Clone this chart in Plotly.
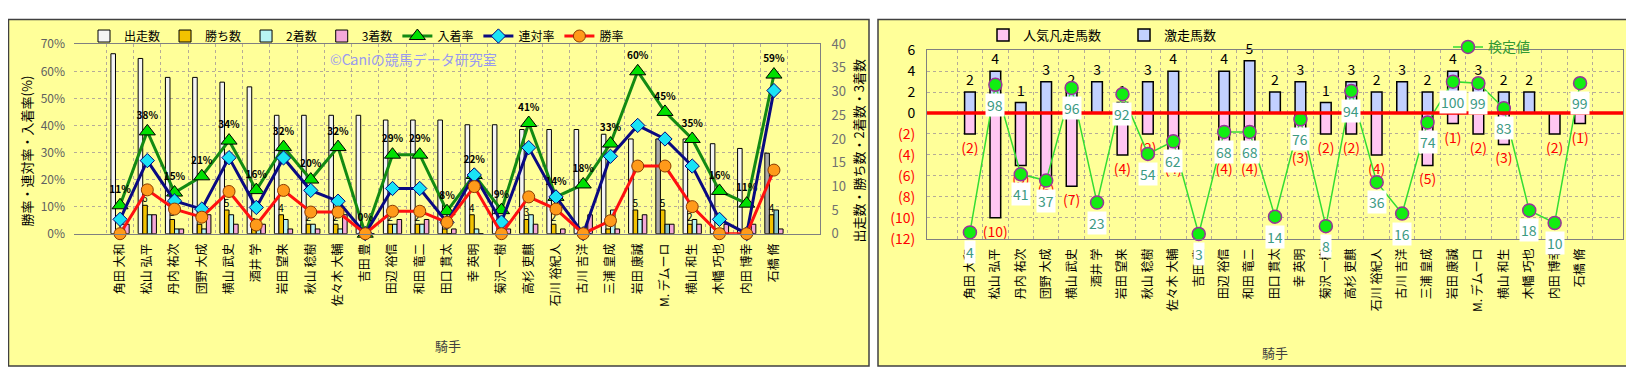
import plotly.graph_objects as go

# ---------------- data ----------------
jockeys = ["角田 大和", "松山 弘平", "丹内 祐次", "団野 大成", "横山 武史", "酒井 学", "岩田 望来",
           "秋山 稔樹", "佐々木 大輔", "吉田 豊", "田辺 裕信", "和田 竜二", "田口 貫太", "幸 英明",
           "菊沢 一樹", "高杉 吏麒", "石川 裕紀人", "古川 吉洋", "三浦 皇成", "岩田 康誠",
           "M. デムーロ", "横山 和生", "木幡 巧也", "内田 博幸", "石橋 脩"]
starts = [38, 37, 33, 33, 32, 31, 25, 25, 25, 25, 24, 24, 24, 23, 23, 22, 22, 22, 21, 20, 20, 20, 19, 18, 17]
wins = [0, 6, 3, 2, 5, 1, 4, 2, 2, 0, 2, 2, 1, 4, 0, 3, 2, 0, 1, 5, 5, 2, 0, 0, 4]
seconds = [2, 4, 1, 1, 4, 2, 3, 2, 1, 0, 2, 2, 0, 1, 1, 4, 0, 0, 5, 3, 2, 3, 1, 0, 5]
thirds = [2, 4, 1, 4, 2, 2, 1, 1, 4, 0, 3, 3, 1, 0, 1, 2, 1, 4, 1, 4, 2, 2, 2, 2, 1]
place_rate = [10.5, 37.8, 15.2, 21.2, 34.4, 16.1, 32.0, 20.0, 32.0, 0.0, 29.2, 29.2, 8.3, 21.7,
              8.7, 40.9, 13.6, 18.2, 33.3, 60.0, 45.0, 35.0, 15.8, 11.1, 58.8]
quinella_rate = [5.3, 27.0, 12.1, 9.1, 28.1, 9.7, 28.0, 16.0, 12.0, 0.0, 16.7, 16.7, 4.2, 21.7,
                 4.3, 31.8, 13.6, 0.0, 28.6, 40.0, 35.0, 25.0, 5.3, 0.0, 52.9]
win_rate = [0.0, 16.2, 9.1, 6.1, 15.6, 3.2, 16.0, 8.0, 8.0, 0.0, 8.3, 8.3, 4.2, 17.4,
            0.0, 13.6, 9.1, 0.0, 4.8, 25.0, 25.0, 10.0, 0.0, 0.0, 23.5]
place_labels = ["11%", "38%", "15%", "21%", "34%", "16%", "32%", "20%", "32%", "0%", "29%", "29%", "8%",
                "22%", "9%", "41%", "14%", "18%", "33%", "60%", "45%", "35%", "16%", "11%", "59%"]
highlight = ["M. デムーロ", "石橋 脩"]

gekiso = [2, 4, 1, 3, 2, 3, 1, 3, 4, 0, 4, 5, 2, 3, 1, 3, 2, 3, 2, 4, 3, 2, 2, 0, 0]      # 激走馬数
bonso = [2, 10, 5, 6, 7, 0, 4, 2, 4, 0, 4, 4, 0, 3, 2, 2, 4, 0, 5, 1, 2, 3, 0, 2, 1]      # 人気凡走馬数
kentei = [4, 98, 41, 37, 96, 23, 92, 54, 62, 3, 68, 68, 14, 76, 8, 94, 36, 16, 74, 100, 99, 83, 18, 10, 99]

right_ticks = [6, 4, 2, 0, -2, -4, -6, -8, -10, -12]

# ---------------- styling helpers ----------------
W, H = 1634, 369
FONT = "Noto Sans CJK JP"


def fx(x):
    return x / W


def fy(y):
    return 1 - y / H


fig = go.Figure()

start_colors = ["#a8a8a8" if j in highlight else "#f4f4f4" for j in jockeys]
second_colors = ["#88c4c8" if j in highlight else "#b8f4f4" for j in jockeys]

# ---------- left chart : bars (counts, right axis) ----------
fig.add_trace(go.Bar(x=jockeys, y=starts, name="出走数", xaxis="x", yaxis="y", legend="legend",
                     marker=dict(color=start_colors, line=dict(color="#000000", width=1))))
fig.add_trace(go.Bar(x=jockeys, y=wins, name="勝ち数", xaxis="x", yaxis="y", legend="legend",
                     marker=dict(color="#f2c200", line=dict(color="#000000", width=1)),
                     text=[str(v) if v else "" for v in wins], textposition="outside",
                     constraintext="none", cliponaxis=False,
                     textfont=dict(size=10, color="#000000", family=FONT)))
fig.add_trace(go.Bar(x=jockeys, y=seconds, name="2着数", xaxis="x", yaxis="y", legend="legend",
                     marker=dict(color=second_colors, line=dict(color="#000000", width=1))))
fig.add_trace(go.Bar(x=jockeys, y=thirds, name="3着数", xaxis="x", yaxis="y", legend="legend",
                     marker=dict(color="#f4a8d8", line=dict(color="#000000", width=1))))

# ---------- left chart : rate lines (percent, left axis) ----------
fig.add_trace(go.Scatter(x=jockeys, y=place_rate, name="入着率", xaxis="x", yaxis="y2", legend="legend",
                         mode="lines+markers+text", text=place_labels, textposition="top center",
                         textfont=dict(size=10, color="#000000", family=FONT, weight="bold"),
                         line=dict(color="#138a13", width=3),
                         marker=dict(symbol="triangle-up", size=14, color="#00e000",
                                     line=dict(color="#000000", width=1)), cliponaxis=False))
fig.add_trace(go.Scatter(x=jockeys, y=quinella_rate, name="連対率", xaxis="x", yaxis="y2", legend="legend",
                         mode="lines+markers", line=dict(color="#0a0a80", width=3),
                         marker=dict(symbol="diamond", size=11, color="#19e3f5",
                                     line=dict(color="#000080", width=1)), cliponaxis=False))
fig.add_trace(go.Scatter(x=jockeys, y=win_rate, name="勝率", xaxis="x", yaxis="y2", legend="legend",
                         mode="lines+markers", line=dict(color="#ff1010", width=3),
                         marker=dict(symbol="circle", size=12, color="#ff9a1a",
                                     line=dict(color="#8a3a00", width=1)), cliponaxis=False))

# ---------- right chart ----------
fig.add_trace(go.Bar(x=jockeys, y=[-v if v else None for v in bonso], name="人気凡走馬数",
                     xaxis="x2", yaxis="y3", legend="legend2", width=0.42, offset=-0.21,
                     marker=dict(color="#ffc6f2", line=dict(color="#000000", width=1.5)),
                     text=[f"({v})" if v else "" for v in bonso], textposition="outside",
                     constraintext="none", cliponaxis=False,
                     textfont=dict(size=14, color="#ff0000", family=FONT)))
fig.add_trace(go.Bar(x=jockeys, y=[v if v else None for v in gekiso], name="激走馬数",
                     xaxis="x2", yaxis="y3", legend="legend3", width=0.42, offset=-0.21,
                     marker=dict(color="#c2d0ff", line=dict(color="#000000", width=1.5)),
                     text=[str(v) if v else "" for v in gekiso], textposition="outside",
                     constraintext="none", cliponaxis=False,
                     textfont=dict(size=14, color="#000000", family=FONT)))
fig.add_trace(go.Scatter(x=jockeys, y=kentei, name="検定値", xaxis="x2", yaxis="y4", legend="legend4",
                         mode="lines+markers", line=dict(color="#33dd33", width=1.5),
                         marker=dict(size=13, color="#11ee11", line=dict(color="#993399", width=1.5)),
                         cliponaxis=False))

annotations = []
for j, v in zip(jockeys, kentei):
    annotations.append(dict(x=j, y=v, xref="x2", yref="y4", text=str(v), showarrow=False, yshift=-20,
                            bgcolor="#ffffff", borderpad=1,
                            font=dict(size=14, color="#3c9a82", family=FONT)))

annotations += [
    dict(x=fx(405), y=fy(42), xref="paper", yref="paper", text="©Caniの競馬データ研究室", showarrow=False,
         xanchor="center", yanchor="middle", font=dict(size=14, color="#9a9af0", family=FONT)),
    dict(x=fx(18), y=fy(140), xref="paper", yref="paper", text="勝率・連対率・入着率(%)", showarrow=False,
         xanchor="center", yanchor="middle", textangle=-90,
         font=dict(size=13, color="#000000", family=FONT)),
    dict(x=fx(850), y=fy(140), xref="paper", yref="paper", text="出走数・勝ち数・2着数・3着数", showarrow=False,
         xanchor="center", yanchor="middle", textangle=-90,
         font=dict(size=13, color="#000000", family=FONT)),
    dict(x=fx(440), y=fy(345), xref="paper", yref="paper", text="騎手", showarrow=False,
         xanchor="center", yanchor="middle", font=dict(size=13, color="#404040", family=FONT)),
    dict(x=fx(1267), y=fy(353), xref="paper", yref="paper", text="騎手", showarrow=False,
         xanchor="center", yanchor="middle", font=dict(size=13, color="#404040", family=FONT)),
]

shapes = [
    dict(type="rect", xref="paper", yref="paper", x0=fx(0.5), x1=fx(861), y0=fy(367), y1=fy(0.5),
         fillcolor="#ffff99", line=dict(color="#404040", width=1.5), layer="below"),
    dict(type="rect", xref="paper", yref="paper", x0=fx(870), x1=fx(1633), y0=fy(367), y1=fy(0.5),
         fillcolor="#ffff99", line=dict(color="#404040", width=1.5), layer="below"),
    dict(type="line", xref="x2 domain", yref="y3", x0=0, x1=1, y0=0, y1=0,
         line=dict(color="#ff0000", width=3.5), layer="above"),
]

right_ticktext = [str(t) if t >= 0 else f'<span style="color:#ff0000">({-t})</span>' for t in right_ticks]

grid = dict(showgrid=True, gridcolor="#b5ab98", griddash="dot", gridwidth=1)
xcommon = dict(type="category", tickangle=-90, ticks="", tickson="boundaries", showline=True,
               linecolor="#808080", mirror=True, tickfont=dict(size=12, color="#000000", family=FONT),
               ticklabelstandoff=4, **grid)

fig.update_layout(
    width=W, height=H, margin=dict(l=0, r=0, t=0, b=0),
    paper_bgcolor="#ffffff", plot_bgcolor="#f6edd8",
    barmode="group", bargap=0.33, bargroupgap=0.0,
    font=dict(family=FONT),
    xaxis=dict(domain=[fx(66), fx(812)], anchor="y", **xcommon),
    yaxis=dict(domain=[fy(227), fy(26.7)], anchor="x", side="right", range=[0, 40], dtick=5,
               showgrid=False, zeroline=False, showline=True, linecolor="#808080", ticks="",
               ticklabelstandoff=8, tickfont=dict(size=13, color="#707070", family=FONT)),
    yaxis2=dict(overlaying="y", anchor="x", side="left", range=[0, 70], dtick=10, ticksuffix="%",
                zeroline=False, ticks="", ticklabelstandoff=8,
                tickfont=dict(size=12, color="#606060", family=FONT), **grid),
    xaxis2=dict(domain=[fx(919), fx(1615)], anchor="y3", **xcommon),
    yaxis3=dict(domain=[fy(232.3), fy(33)], anchor="x2", range=[-12, 6], tickvals=right_ticks,
                ticktext=right_ticktext, zeroline=False, showline=True, linecolor="#808080", mirror=True,
                ticks="", ticklabelstandoff=8, tickfont=dict(size=14, color="#000000", family=FONT), **grid),
    yaxis4=dict(overlaying="y3", anchor="x2", range=[0, 120], visible=False),
    legend=dict(orientation="h", x=fx(76), y=fy(18), xanchor="left", yanchor="middle",
                bgcolor="rgba(0,0,0,0)", font=dict(size=12, color="#000000", family=FONT),
                itemwidth=30, traceorder="normal"),
    legend2=dict(orientation="h", x=fx(975), y=fy(17), xanchor="left", yanchor="middle",
                 bgcolor="rgba(0,0,0,0)", font=dict(size=13, color="#000000", family=FONT), itemwidth=30),
    legend3=dict(orientation="h", x=fx(1116), y=fy(17), xanchor="left", yanchor="middle",
                 bgcolor="rgba(0,0,0,0)", font=dict(size=13, color="#000000", family=FONT), itemwidth=30),
    legend4=dict(orientation="h", x=fx(1440), y=fy(30), xanchor="left", yanchor="middle",
                 bgcolor="rgba(0,0,0,0)", font=dict(size=14, color="#339933", family=FONT), itemwidth=30),
    annotations=annotations, shapes=shapes,
)

fig.write_html("out.html")
